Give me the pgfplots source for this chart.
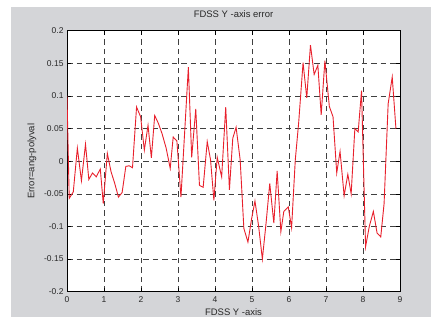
\documentclass[border=0pt]{standalone}
\usepackage{pgfplots}
\pgfplotsset{compat=1.18}
\usepackage{fontspec}
\setmainfont{Liberation Sans}
\definecolor{bg}{RGB}{212,213,216}
\definecolor{curve}{RGB}{232,32,44}
\definecolor{txt}{RGB}{40,40,40}
\begin{document}
\begin{tikzpicture}
\path[fill=white] (-67bp,-29.3bp) rectangle (364bp,291.7bp);
\fill[bg] (-56bp,-25.3bp) rectangle (364bp,284.7bp);
\begin{axis}[
  at={(0,0)}, anchor=south west,
  scale only axis, width=333bp, height=261bp,
  xmin=0, xmax=9, ymin=-0.2, ymax=0.2,
  axis background/.style={fill=white},
  xtick={0,1,...,9},
  ytick={-0.2,-0.15,-0.1,-0.05,0,0.05,0.1,0.15,0.2},
  yticklabels={-0.2,-0.15,-0.1,-0.05,0,0.05,0.1,0.15,0.2},
  xticklabels={0,1,2,3,4,5,6,7,8,9},
  tick align=inside, major tick length=4bp,
  tick style={black, line width=0.6bp},
  axis line style={black, line width=0.9bp},
  grid=major,
  major grid style={black!75, line width=0.6bp, dash pattern=on 5.5bp off 4bp},
  ticklabel style={font=\fontsize{8.5}{10}\selectfont, text=txt},
  xticklabel style={yshift=-1bp},
  /pgf/number format/assume math mode=true,
  title={FDSS Y -axis error},
  title style={font=\fontsize{9.5}{11}\selectfont, text=txt, at={([yshift=10.5bp]axis description cs:0.5,1)}, anchor=center},
  xlabel={FDSS Y -axis},
  xlabel style={font=\fontsize{9.5}{11}\selectfont, text=txt, at={([yshift=-20.5bp]axis description cs:0.5,0)}, anchor=center},
  ylabel={Error=ang-polyval},
  ylabel style={font=\fontsize{9.5}{11}\selectfont, text=txt, at={([xshift=-35bp]axis description cs:0,0.5)}, anchor=center, rotate=0},
]
\addplot[curve, line width=0.9bp, mark=none] coordinates {
(0.00,0.100) (0.06,-0.057) (0.17,-0.047) (0.28,0.020) (0.39,-0.030)
(0.50,0.026) (0.59,-0.028) (0.69,-0.018) (0.79,-0.024) (0.90,-0.012)
(0.98,-0.065) (1.09,0.012) (1.19,-0.016) (1.29,-0.034) (1.39,-0.055)
(1.49,-0.048) (1.59,-0.008) (1.68,-0.007) (1.77,-0.010) (1.88,0.083)
(1.99,0.068) (2.09,0.017) (2.19,0.055) (2.28,0.005) (2.37,0.070)
(2.47,0.058) (2.57,0.042) (2.68,0.020) (2.79,-0.011) (2.87,0.037)
(2.97,0.031) (3.08,-0.055) (3.28,0.144) (3.37,0.006) (3.48,0.080)
(3.58,-0.037) (3.68,-0.040) (3.79,0.030) (3.88,0.002) (3.97,-0.060)
(4.06,0.006) (4.18,-0.024) (4.29,0.083) (4.39,-0.044) (4.48,0.035)
(4.57,0.052) (4.68,0.002) (4.78,-0.103) (4.89,-0.124) (4.99,-0.088)
(5.08,-0.061) (5.18,-0.100) (5.28,-0.150) (5.38,-0.095) (5.48,-0.034)
(5.59,-0.095) (5.68,-0.015) (5.78,-0.108) (5.86,-0.077) (5.98,-0.070)
(6.07,-0.102) (6.17,0.002) (6.26,0.058) (6.38,0.151) (6.48,0.097)
(6.58,0.178) (6.68,0.133) (6.78,0.147) (6.87,0.071) (6.97,0.154)
(7.09,0.084) (7.19,0.068) (7.29,-0.018) (7.38,0.015) (7.49,-0.053)
(7.59,-0.020) (7.68,-0.050) (7.78,0.050) (7.87,0.045) (7.96,0.108)
(8.07,-0.131) (8.17,-0.100) (8.28,-0.077) (8.38,-0.110) (8.48,-0.116)
(8.57,-0.065) (8.68,0.088) (8.79,0.129) (8.89,0.050)
};
\end{axis}
\end{tikzpicture}
\end{document}
